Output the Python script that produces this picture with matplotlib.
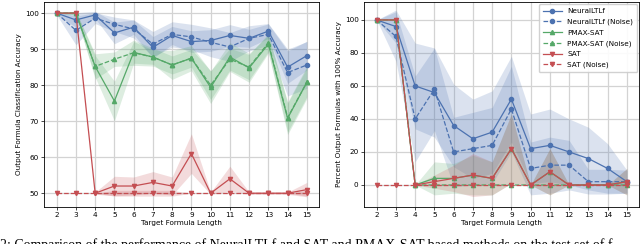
import numpy as np
import matplotlib.pyplot as plt

x = list(range(2, 16))

# left panel: classification accuracy
acc_nltl = [100, 98.1, 99.5, 94.5, 96.1, 90.5, 93.8, 92.1, 92.4, 93.8, 93.0, 95.0, 85.0, 88.2]
acc_nltl_sd = [0.5, 2.0, 1.0, 3.0, 2.0, 3.0, 2.5, 3.0, 3.0, 3.0, 2.5, 2.0, 4.5, 4.0]
acc_nltl_n = [100, 95.2, 98.6, 96.9, 95.6, 91.4, 94.1, 93.4, 91.9, 90.6, 93.0, 94.1, 83.5, 85.6]
acc_nltl_n_sd = [0.5, 4.0, 1.5, 2.0, 2.5, 3.5, 3.5, 3.5, 4.0, 4.0, 3.5, 3.0, 6.5, 6.5]
acc_pmax = [100, 100, 85.2, 75.6, 89.1, 87.8, 85.6, 87.5, 79.4, 87.8, 84.8, 91.4, 70.8, 80.8]
acc_pmax_sd = [0, 0.5, 3.0, 5.5, 3.0, 2.0, 4.0, 3.5, 4.5, 4.0, 4.0, 2.5, 4.5, 4.5]
acc_pmax_n = [100, 100, 85.2, 87.2, 89.0, 87.8, 85.6, 87.5, 80.0, 87.2, 85.0, 91.8, 71.0, 80.8]
acc_pmax_n_sd = [0, 0.5, 3.5, 2.0, 3.5, 2.5, 2.5, 2.5, 4.0, 3.0, 3.5, 2.5, 4.0, 4.0]
acc_sat = [100, 100, 50, 52, 52, 53, 52, 61, 50, 54, 50, 50, 50, 51]
acc_sat_sd = [0, 0, 0.3, 2.7, 2.5, 3.0, 2.5, 5.5, 0.3, 3.5, 0.3, 0.3, 0.3, 2.0]
acc_sat_n = [50] * 14
acc_sat_n_sd = [0, 0, 0, 0.8, 0.8, 0.8, 0.8, 0, 0, 0, 0, 0, 0, 0.8]

# right panel: percent of formulas with 100% accuracy
pct_nltl = [100, 96, 60, 56, 36, 28, 32, 52, 22, 24, 20, 16, 10, 2]
pct_nltl_sd = [0, 10, 26, 27, 25, 24, 25, 26, 21, 22, 20, 19, 15, 7]
pct_nltl_n = [100, 90, 40, 58, 20, 22, 24, 46, 10, 12, 12, 2, 2, 2]
pct_nltl_n_sd = [0, 15, 26, 25, 21, 22, 23, 26, 16, 17, 15, 7.5, 7.5, 7]
pct_pmax = [100, 100, 0, 4, 4, 6, 4, 22, 0, 8, 0, 0, 0, 2]
pct_pmax_sd = [0, 0, 0, 10, 9, 12, 10, 21, 0, 14, 0, 0, 0, 8]
pct_pmax_n = [100, 100, 0, 0, 0, 0, 0, 0, 0, 0, 0, 0, 0, 0]
pct_pmax_n_sd = [0] * 14
pct_sat = [100, 100, 0, 2, 4, 6, 4, 22, 0, 8, 0, 0, 0, 2]
pct_sat_sd = [0, 0, 0, 4, 8, 13, 10, 21, 0, 14, 0, 0, 0, 8]
pct_sat_n = [0] * 14
pct_sat_n_sd = [0] * 14

BLUE = "#4c72b0"
GREEN = "#55a868"
RED = "#c44e52"

plt.rcParams["font.size"] = 5.2
plt.rcParams["axes.linewidth"] = 0.6


def draw(ax, series):
    for label, m, sd, color, marker, ls in series:
        m = np.array(m, dtype=float)
        sd = np.array(sd, dtype=float)
        ax.plot(x, m, color=color, marker=marker, ls=ls, lw=0.9, ms=3, label=label)
        ax.fill_between(x, m - sd, m + sd, color=color, alpha=0.2, lw=0)
    ax.set_xticks(x)
    ax.set_xlabel("Target Formula Length", labelpad=1)
    ax.grid(True, color="#d3d3d3", lw=0.9)
    ax.set_axisbelow(True)
    ax.tick_params(length=2.5, width=0.5, pad=1.5)
    ax.set_xlim(1.35, 15.65)


fig = plt.figure(figsize=(6.4, 2.44), dpi=100)
ax1 = fig.add_axes([0.069, 0.152, 0.43, 0.84])
ax2 = fig.add_axes([0.569, 0.152, 0.43, 0.84])

draw(ax1, [
    ("NeuralLTLf", acc_nltl, acc_nltl_sd, BLUE, "o", "-"),
    ("NeuralLTLf (Noise)", acc_nltl_n, acc_nltl_n_sd, BLUE, "o", "--"),
    ("PMAX-SAT", acc_pmax, acc_pmax_sd, GREEN, "^", "-"),
    ("PMAX-SAT (Noise)", acc_pmax_n, acc_pmax_n_sd, GREEN, "^", "--"),
    ("SAT", acc_sat, acc_sat_sd, RED, "v", "-"),
    ("SAT (Noise)", acc_sat_n, acc_sat_n_sd, RED, "v", "--"),
])
ax1.set_ylim(46.2, 103.1)
ax1.set_yticks([50, 60, 70, 80, 90, 100])
ax1.set_ylabel("Output Formula Classification Accuracy", labelpad=2)

draw(ax2, [
    ("NeuralLTLf", pct_nltl, pct_nltl_sd, BLUE, "o", "-"),
    ("NeuralLTLf (Noise)", pct_nltl_n, pct_nltl_n_sd, BLUE, "o", "--"),
    ("PMAX-SAT", pct_pmax, pct_pmax_sd, GREEN, "^", "-"),
    ("PMAX-SAT (Noise)", pct_pmax_n, pct_pmax_n_sd, GREEN, "^", "--"),
    ("SAT", pct_sat, pct_sat_sd, RED, "v", "-"),
    ("SAT (Noise)", pct_sat_n, pct_sat_n_sd, RED, "v", "--"),
])
ax2.set_ylim(-13.3, 110.9)
ax2.set_yticks([0, 20, 40, 60, 80, 100])
ax2.set_ylabel("Percent Output Formulas with 100% Accuracy", labelpad=2)
ax2.legend(loc="upper right", fontsize=5.2, handlelength=2.6, labelspacing=0.62,
           borderpad=0.55, framealpha=0.9, edgecolor="#cccccc", fancybox=True,
           borderaxespad=0.3)

# caption, cut off at the bottom of the crop as in the source
fig.text(0.0, -0.022, "2: Comparison of the performance of NeuralLTLf and SAT and PMAX-SAT "
         "based methods on the test set of f", family="Liberation Serif",
         fontsize=10, ha="left", va="baseline")

fig.savefig("out.png", dpi=100)
